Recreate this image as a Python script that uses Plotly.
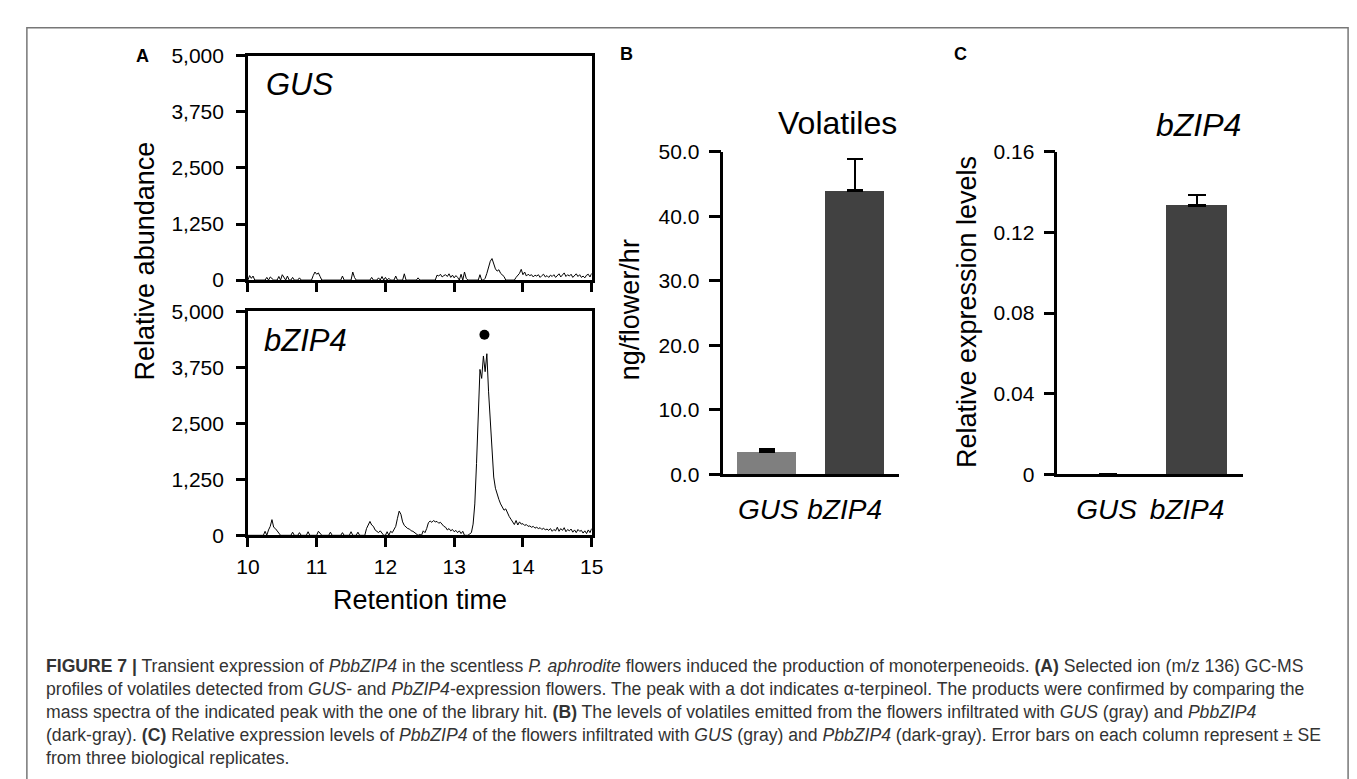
import plotly.graph_objects as go

W, H = 1357, 779

# ---------------- data ----------------
rt_start, rt_step = 10.0, 0.025          # sampling grid of the chromatograms (min)

gus_signal = [
    0, 100, 40, 90, 0, 0, 0, 0, 0, 0,
    0, 60, 0, 70, 40, 0, 0, 0, 80, 0,
    120, 60, 0, 90, 0, 0, 60, 0, 0, 0,
    50, 0, 0, 0, 0, 0, 0, 0, 100, 180,
    130, 160, 80, 0, 0, 0, 0, 0, 0, 0,
    0, 0, 0, 0, 0, 90, 0, 0, 0, 0,
    0, 180, 60, 0, 0, 0, 0, 0, 0, 0,
    0, 0, 60, 0, 0, 0, 50, 0, 80, 0,
    60, 0, 40, 0, 0, 0, 90, 0, 0, 0,
    0, 140, 0, 0, 0, 0, 0, 0, 0, 50,
    0, 0, 0, 0, 0, 0, 0, 0, 0, 0,
    110, 90, 130, 70, 100, 120, 80, 140, 60, 110,
    50, 100, 60, 0, 130, 0, 180, 40, 0, 0,
    0, 0, 0, 0, 0, 120, 0, 0, 40, 150,
    300, 420, 480, 350, 250, 200, 230, 150, 120, 80,
    0, 0, 0, 0, 0, 0, 60, 110, 150, 240,
    120, 180, 90, 130, 100, 120, 70, 110, 90, 120,
    60, 100, 130, 70, 100, 60, 110, 80, 120, 60,
    100, 140, 70, 110, 160, 80, 120, 90, 130, 60,
    100, 140, 80, 120, 60, 90, 50, 110, 130, 70,
    150,
]

bzip4_signal = [
    0, 0, 0, 0, 0, 0, 0, 0, 0, 0,
    90, 0, 120, 200, 350, 180, 150, 90, 60, 0,
    0, 0, 0, 0, 0, 0, 70, 0, 0, 0,
    60, 0, 0, 0, 0, 80, 0, 0, 0, 0,
    0, 90, 50, 0, 0, 0, 0, 0, 70, 0,
    0, 0, 0, 0, 0, 60, 0, 0, 0, 0,
    80, 0, 0, 0, 70, 0, 0, 0, 0, 150,
    250, 310, 230, 200, 120, 90, 60, 100, 40, 0,
    0, 80, 0, 90, 60, 120, 200, 380, 540, 470,
    300, 220, 180, 150, 140, 100, 90, 60, 30, 0,
    20, 0, 100, 60, 150, 280, 320, 290, 330, 300,
    310, 270, 290, 230, 200, 180, 120, 150, 100, 130,
    80, 110, 60, 100, 40, 90, 0, 0, 0, 30,
    60, 250, 700, 1600, 2900, 3700, 3500, 4000, 3650, 4050,
    3200, 2500, 1800, 1300, 1050, 900, 800, 700, 640, 560,
    590, 480, 420, 360, 300, 240, 330, 230, 300, 250,
    260, 220, 240, 200, 210, 180, 200, 160, 180, 150,
    170, 130, 160, 120, 140, 110, 150, 90, 130, 100,
    180, 90, 150, 110, 170, 80, 130, 100, 140, 70,
    120, 60, 130, 90, 110, 50, 100, 40, 120, 60,
    150,
]

dot_rt = [13.44]
dot_level = [4474]

abund_ticks = [0, 1250, 2500, 3750, 5000]
abund_ticktext = ["0", "1,250", "2,500", "3,750", "5,000"]
rt_ticks = [10, 11, 12, 13, 14, 15]

categories = ["GUS", "bZIP4"]
volatiles = [3.5, 44.0]
volatiles_se = [0.35, 4.9]
vol_ticks = [0, 10, 20, 30, 40, 50]
vol_ticktext = ["0.0", "10.0", "20.0", "30.0", "40.0", "50.0"]

expression = [0.0, 0.1335]
expression_se = [float("nan"), 0.0052]
expr_ticks = [0, 0.04, 0.08, 0.12, 0.16]
expr_ticktext = ["0", "0.04", "0.08", "0.12", "0.16"]

bar_colors = ["#7f7f7f", "#414141"]

caption_lines = [
    "<b>FIGURE 7 |</b> Transient expression of <i>PbbZIP4</i> in the scentless <i>P. aphrodite</i> flowers induced the production of monoterpeneoids. <b>(A)</b> Selected ion (m/z 136) GC-MS",
    "profiles of volatiles detected from <i>GUS</i>- and <i>PbZIP4</i>-expression flowers. The peak with a dot indicates α-terpineol. The products were confirmed by comparing the",
    "mass spectra of the indicated peak with the one of the library hit. <b>(B)</b> The levels of volatiles emitted from the flowers infiltrated with <i>GUS</i> (gray) and <i>PbbZIP4</i>",
    "(dark-gray). <b>(C)</b> Relative expression levels of <i>PbbZIP4</i> of the flowers infiltrated with <i>GUS</i> (gray) and <i>PbbZIP4</i> (dark-gray). Error bars on each column represent ± SE",
    "from three biological replicates.",
]

# ---------------- helpers ----------------
FONT = "Liberation Sans, Arial, Helvetica, sans-serif"
rt = [round(rt_start + rt_step * i, 3) for i in range(len(bzip4_signal))]


def px(x):
    return x / W


def py(y):
    return 1 - y / H


fig = go.Figure()

fig.add_trace(go.Scatter(x=rt, y=gus_signal, mode="lines", line=dict(color="black", width=1),
                         xaxis="x", yaxis="y", showlegend=False, hoverinfo="skip"))
fig.add_trace(go.Scatter(x=rt, y=bzip4_signal, mode="lines", line=dict(color="black", width=1),
                         xaxis="x2", yaxis="y2", showlegend=False, hoverinfo="skip"))
fig.add_trace(go.Scatter(x=dot_rt, y=dot_level, mode="markers", marker=dict(color="black", size=10),
                         xaxis="x2", yaxis="y2", showlegend=False, cliponaxis=False))

fig.add_trace(go.Bar(x=[0, 1], y=volatiles, width=0.667, marker=dict(color=bar_colors, line=dict(width=0)),
                     error_y=dict(type="data", symmetric=False, array=volatiles_se, arrayminus=[0, 0],
                                  color="black", thickness=2.5, width=8),
                     xaxis="x3", yaxis="y3", showlegend=False))
fig.add_trace(go.Bar(x=[0, 1], y=expression, width=0.696, marker=dict(color=bar_colors, line=dict(width=0)),
                     error_y=dict(type="data", symmetric=False, array=expression_se, arrayminus=[0, 0],
                                  color="black", thickness=2.5, width=9),
                     xaxis="x4", yaxis="y4", showlegend=False))

tickfont = dict(family=FONT, size=21, color="black")
axis_common = dict(showgrid=False, zeroline=False, showline=True, linecolor="black", linewidth=2.5,
                   tickcolor="black", tickwidth=2.5, tickfont=tickfont, fixedrange=True)
catfont = dict(family=FONT, size=28, color="black")

xdomA = [px(232), px(582)]
fig.update_layout(
    xaxis=dict(domain=xdomA, anchor="y", range=[10, 15], tickvals=rt_ticks, ticks="outside", ticklen=9,
               showticklabels=False, mirror=True, **axis_common),
    yaxis=dict(domain=[py(268), py(37)], anchor="x", range=[0, 5000], tickvals=abund_ticks,
               ticktext=abund_ticktext, ticks="outside", ticklen=9, mirror=True, ticklabelstandoff=8,
               **axis_common),
    xaxis2=dict(domain=xdomA, anchor="y2", range=[10, 15], tickvals=rt_ticks, ticks="outside", ticklen=9,
                mirror=True, ticklabelstandoff=2, **axis_common),
    yaxis2=dict(domain=[py(531), py(300)], anchor="x2", range=[0, 5000], tickvals=abund_ticks,
                ticktext=abund_ticktext, ticks="outside", ticklen=9, mirror=True, ticklabelstandoff=8,
                **axis_common),
    xaxis3=dict(domain=[px(716), px(895)], anchor="y3", range=[-0.489, 1.5], tickvals=[0.02, 0.883],
                ticktext=["<i>%s</i>" % c for c in categories], ticks="", ticklabelstandoff=8,
                **{**axis_common, "tickfont": catfont}),
    yaxis3=dict(domain=[py(468), py(136)], anchor="x3", range=[0, 50], tickvals=vol_ticks,
                ticktext=vol_ticktext, ticks="outside", ticklen=12, ticklabelstandoff=5, **axis_common),
    xaxis4=dict(domain=[px(1056), px(1245)], anchor="y4", range=[-0.578, 1.522], tickvals=[-0.02, 0.889],
                ticktext=["<i>%s</i>" % c for c in categories], ticks="", ticklabelstandoff=8,
                **{**axis_common, "tickfont": catfont}),
    yaxis4=dict(domain=[py(468), py(136)], anchor="x4", range=[0, 0.16], tickvals=expr_ticks,
                ticktext=expr_ticktext, ticks="outside", ticklen=11, ticklabelstandoff=5, **axis_common),
)

ann = []


def text(x, y, s, size, xanchor="center", yanchor="middle", angle=0, color="black"):
    ann.append(dict(x=px(x), y=py(y), xref="paper", yref="paper", text=s, showarrow=False,
                    xanchor=xanchor, yanchor=yanchor, textangle=angle,
                    font=dict(family=FONT, size=size, color=color)))


# panel letters
text(125, 37, "<b>A</b>", 18)
text(617, 35, "<b>B</b>", 18)
text(957, 35, "<b>C</b>", 18)

# panel A labels
text(248, 66, "<i>GUS</i>", 31, xanchor="left")
text(246, 330, "<i>bZIP4</i>", 31, xanchor="left")
text(127, 248, "Relative abundance", 27, angle=-90)
text(407, 598, "Retention time", 27)

# panel B / C
text(895, 106, "Volatiles", 32, xanchor="right")
text(1245, 108, "<i>bZIP4</i>", 32, xanchor="right")
text(621, 299, "ng/flower/hr", 27, angle=-90)
text(964, 301, "Relative expression levels", 27, angle=-90)

# caption
for i, line in enumerate(caption_lines):
    ann.append(dict(x=px(24), y=py(666 + 23.5 * i), xref="paper", yref="paper", text=line, showarrow=False,
                    xanchor="left", yanchor="middle", align="left",
                    font=dict(family=FONT, size=17.6, color="#333333")))

fig.update_layout(
    annotations=ann,
    shapes=[dict(type="rect", xref="paper", yref="paper", x0=px(7), x1=px(1352), y0=py(800), y1=py(8),
                 line=dict(color="#777777", width=1.5), layer="below")],
    width=W, height=H, margin=dict(l=0, r=0, t=0, b=0),
    paper_bgcolor="white", plot_bgcolor="white",
    font=dict(family=FONT, color="black"), bargap=0,
)

fig.write_html("out.html", config={"displayModeBar": False})
